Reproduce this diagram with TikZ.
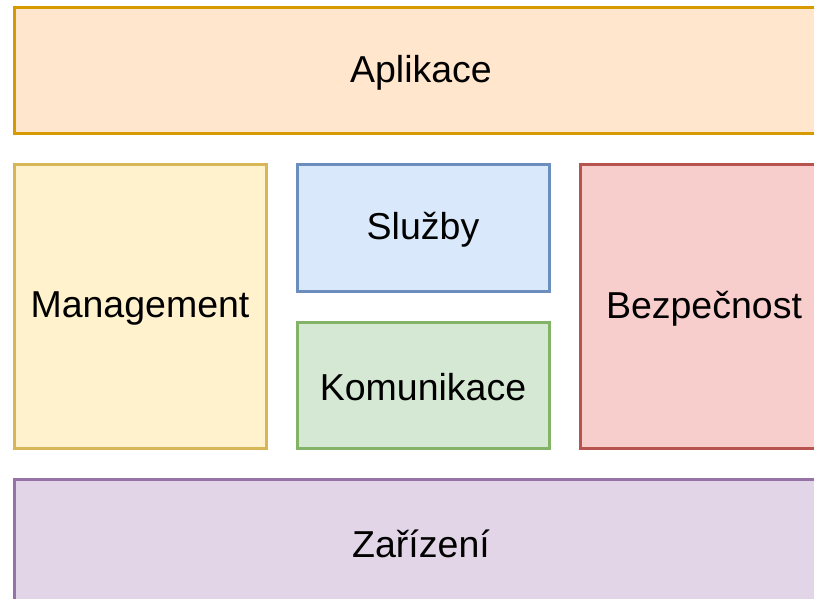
\documentclass[tikz,border=0pt]{standalone}
\usepackage{fontspec}
\setmainfont{Liberation Sans}
\definecolor{orfill}{HTML}{FFE6CC}\definecolor{ordraw}{HTML}{D79B00}
\definecolor{yefill}{HTML}{FFF2CC}\definecolor{yedraw}{HTML}{D6B656}
\definecolor{blfill}{HTML}{DAE8FC}\definecolor{bldraw}{HTML}{6C8EBF}
\definecolor{grfill}{HTML}{D5E8D4}\definecolor{grdraw}{HTML}{82B366}
\definecolor{refill}{HTML}{F8CECC}\definecolor{redraw}{HTML}{B85450}
\definecolor{pufill}{HTML}{E1D5E7}\definecolor{pudraw}{HTML}{9673A6}
\tikzset{
  layer/.style={line width=3pt, font=\fontsize{37.5}{42}\selectfont, text=black},
}
\begin{document}
\begin{tikzpicture}[x=1pt,y=-1pt]
\useasboundingbox (0,0) rectangle (814,599);
\clip (0,0) rectangle (814,599);
\draw[layer, fill=orfill, draw=ordraw] (14,8) rectangle (828,134)
  node[midway, yshift=-2pt] (app) {Aplikace};
\draw[layer, fill=yefill, draw=yedraw] (14,165) rectangle (266,448)
  node[midway, yshift=-2pt] (mgmt) {Management};
\draw[layer, fill=blfill, draw=bldraw] (297,165) rectangle (549,291)
  node[midway, yshift=-2pt] (svc) {Služby};
\draw[layer, fill=grfill, draw=grdraw] (297,322) rectangle (549,448)
  node[midway, yshift=-2pt] (comm) {Komunikace};
\draw[layer, fill=refill, draw=redraw] (580,165) rectangle (828,448)
  node[midway, yshift=-2pt] (sec) {Bezpečnost};
\draw[layer, fill=pufill, draw=pudraw] (14,479) rectangle (828,605)
  node[midway, yshift=-2pt] (dev) {Zařízení};
\end{tikzpicture}
\end{document}
